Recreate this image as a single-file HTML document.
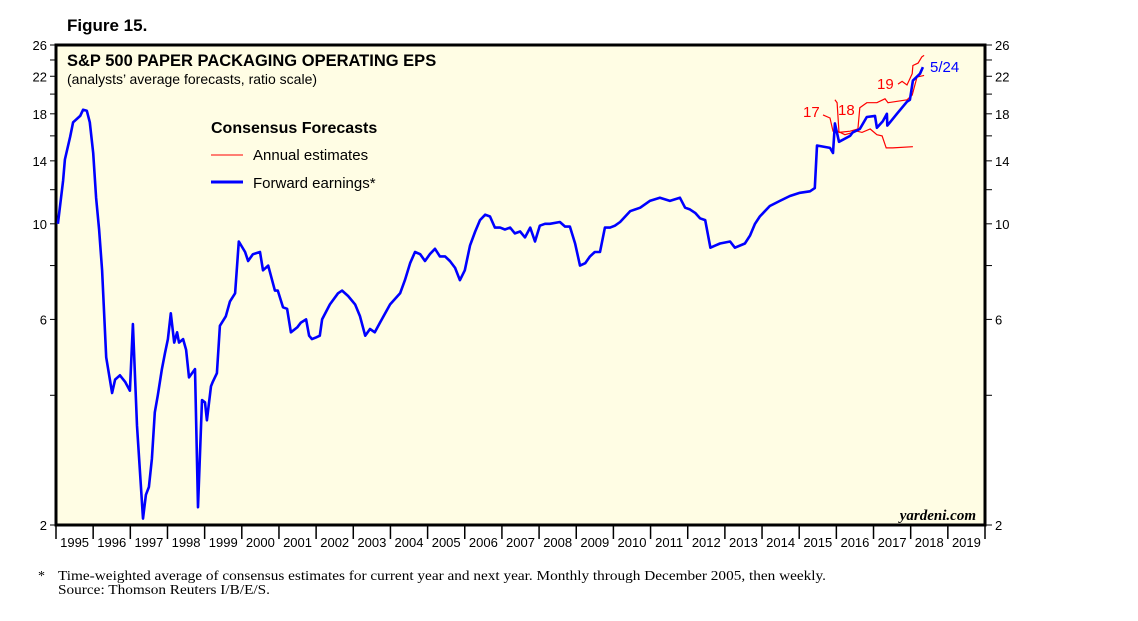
<!DOCTYPE html>
<html><head><meta charset="utf-8">
<style>
body{margin:0;background:#fff;width:1138px;height:621px;overflow:hidden}
svg{display:block}
</style></head>
<body>
<svg id="chart" width="1138" height="621" font-family="Liberation Sans, sans-serif">
<text x="67" y="31" font-size="17" font-weight="bold">Figure 15.</text>
<rect x="56" y="45" width="929" height="480" fill="#fffde4" stroke="#000" stroke-width="3"/>
<text x="67" y="66" font-size="16.5" font-weight="bold">S&amp;P 500 PAPER PACKAGING OPERATING EPS</text>
<text x="67" y="84" font-size="14">(analysts’ average forecasts, ratio scale)</text>
<g>
<text x="211" y="133" font-size="16" font-weight="bold">Consensus Forecasts</text>
<line x1="211" y1="155" x2="243" y2="155" stroke="#f00" stroke-width="1"/>
<text x="253" y="160" font-size="15">Annual estimates</text>
<line x1="211" y1="182" x2="243" y2="182" stroke="#00f" stroke-width="3"/>
<text x="253" y="188" font-size="15">Forward earnings*</text>
</g>
<text x="976" y="520" font-size="15" font-style="italic" font-weight="bold" font-family="Liberation Serif, serif" text-anchor="end">yardeni.com</text>
<g id="axes"></g>
<g id="series"></g>
<text x="38" y="580" font-size="14" font-family="Liberation Serif, serif">*</text>
<text x="58" y="580" font-size="14" font-family="Liberation Serif, serif" textLength="768" lengthAdjust="spacingAndGlyphs">Time-weighted average of consensus estimates for current year and next year. Monthly through December 2005, then weekly.</text>
<text x="58" y="594" font-size="14" font-family="Liberation Serif, serif" textLength="212" lengthAdjust="spacingAndGlyphs">Source: Thomson Reuters I/B/E/S.</text>
</svg>
<script>
const yTicks=[2,4,6,8,10,12,14,16,18,20,22,24,26];
const yLabels=[2,6,10,14,18,22,26];
const years=[1995,1996,1997,1998,1999,2000,2001,2002,2003,2004,2005,2006,2007,2008,2009,2010,2011,2012,2013,2014,2015,2016,2017,2018,2019];
const fwdDates=[1995.05,1995.19,1995.24,1995.38,1995.46,1995.65,1995.73,1995.83,1995.91,1996.0,1996.08,1996.16,1996.24,1996.35,1996.51,1996.59,1996.72,1996.86,1996.99,1997.07,1997.18,1997.26,1997.34,1997.42,1997.5,1997.58,1997.66,1997.74,1997.85,1997.93,1998.01,1998.09,1998.18,1998.26,1998.31,1998.42,1998.5,1998.58,1998.74,1998.82,1998.93,1999.01,1999.06,1999.17,1999.22,1999.33,1999.41,1999.57,1999.68,1999.82,1999.92,2000.09,2000.17,2000.3,2000.49,2000.57,2000.71,2000.89,2000.97,2001.11,2001.22,2001.32,2001.49,2001.59,2001.73,2001.81,2001.89,2002.0,2002.1,2002.16,2002.37,2002.59,2002.7,2002.86,2003.05,2003.18,2003.32,2003.45,2003.58,2003.72,2003.99,2004.26,2004.39,2004.53,2004.66,2004.8,2004.93,2005.06,2005.2,2005.33,2005.47,2005.6,2005.74,2005.87,2006.0,2006.14,2006.28,2006.41,2006.55,2006.68,2006.81,2006.95,2007.08,2007.22,2007.35,2007.49,2007.62,2007.76,2007.89,2008.02,2008.16,2008.29,2008.56,2008.7,2008.83,2008.97,2009.1,2009.24,2009.37,2009.5,2009.64,2009.77,2009.91,2010.04,2010.18,2010.45,2010.72,2010.98,2011.25,2011.52,2011.79,2011.93,2012.06,2012.2,2012.33,2012.47,2012.61,2012.74,2012.87,2013.14,2013.27,2013.54,2013.68,2013.81,2013.94,2014.21,2014.48,2014.75,2015.02,2015.29,2015.42,2015.48,2015.83,2015.91,2015.96,2016.07,2016.37,2016.44,2016.63,2016.82,2017.04,2017.09,2017.25,2017.36,2017.37,2017.63,2017.9,2017.98,2018.06,2018.25,2018.33];
const fwdValues=[10.0,12.6,14.1,15.9,17.2,17.8,18.4,18.3,17.2,14.6,11.5,9.7,7.8,4.9,4.05,4.35,4.45,4.3,4.1,5.85,3.4,2.65,2.07,2.35,2.45,2.85,3.65,4.0,4.6,5.0,5.4,6.2,5.3,5.6,5.3,5.4,5.1,4.4,4.6,2.2,3.9,3.85,3.5,4.2,4.3,4.5,5.8,6.1,6.6,6.9,9.1,8.6,8.2,8.5,8.6,7.8,8.0,7.0,7.0,6.4,6.35,5.6,5.75,5.9,6.0,5.5,5.4,5.45,5.5,6.0,6.5,6.9,7.0,6.8,6.5,6.1,5.5,5.7,5.6,5.9,6.5,6.9,7.4,8.1,8.6,8.5,8.2,8.5,8.75,8.4,8.4,8.2,7.9,7.4,7.8,8.9,9.6,10.2,10.5,10.4,9.8,9.8,9.7,9.8,9.5,9.6,9.3,9.8,9.1,9.9,10.0,10.0,10.1,9.85,9.85,9.0,8.0,8.1,8.4,8.6,8.6,9.8,9.8,9.9,10.1,10.7,10.9,11.3,11.5,11.3,11.5,10.9,10.8,10.6,10.3,10.2,8.8,8.9,9.0,9.1,8.8,9.0,9.4,10.0,10.4,11.0,11.3,11.6,11.8,11.9,12.1,15.2,15.0,14.6,17.1,15.5,16.0,16.3,16.6,17.7,17.8,16.7,17.3,18.0,16.9,18.0,19.2,19.4,21.5,22.3,23.1];
const a17Dates=[2015.64,2015.83,2015.91,2016.04,2016.23,2016.56,2016.69,2016.91,2017.09,2017.23,2017.34,2017.52,2018.06];
const a17Values=[17.9,17.6,16.4,16.4,16.1,16.4,16.3,16.6,16.1,16.0,15.0,15.0,15.1];
const a18Dates=[2015.96,2016.02,2016.07,2016.37,2016.58,2016.63,2016.82,2017.09,2017.31,2017.39,2017.9,2018.04,2018.17,2018.36];
const a18Values=[19.4,19.1,16.3,16.4,16.6,18.6,19.1,19.1,19.5,19.1,19.4,19.9,21.9,22.1];
const a19Dates=[2017.66,2017.77,2017.9,2018.04,2018.06,2018.2,2018.3,2018.36];
const a19Values=[21.1,21.4,21.0,22.3,23.3,23.6,24.4,24.6];

const NS='http://www.w3.org/2000/svg';
const X0=56,X1=985,Y0=45,Y1=525;
function xS(t){return X0+(t-1995)/25*(X1-X0);}
function yS(v){return Y0+(Math.log(26)-Math.log(v))/(Math.log(26)-Math.log(2))*(Y1-Y0);}
function mk(tag,attrs,parent){const e=document.createElementNS(NS,tag);for(const k in attrs)e.setAttribute(k,attrs[k]);parent.appendChild(e);return e;}
const axes=document.getElementById('axes'),series=document.getElementById('series');
yTicks.forEach(v=>{
  const y=yS(v);
  const l=mk('line',{x1:X0-6,y1:y,x2:X0,y2:y,stroke:'#000','stroke-width':1},axes);
  
  
  const r=mk('line',{x1:X1,y1:y,x2:X1+7,y2:y,stroke:'#000','stroke-width':1},axes);
  
  
});
yLabels.forEach(v=>{
  const y=yS(v)+5;
  const t=mk('text',{x:X0-9,y:y,'font-size':13,'text-anchor':'end'},axes);t.textContent=v;
  
  
  const t2=mk('text',{x:X1+10,y:y,'font-size':13},axes);t2.textContent=v;
  
  
});
years.concat([2020]).forEach(yr=>{
  const x=xS(yr);
  const l=mk('line',{x1:x,y1:Y1,x2:x,y2:Y1+14,stroke:'#000','stroke-width':1.5},axes);
  
  
});
years.forEach(yr=>{
  const t=mk('text',{x:xS(yr+0.5),y:Y1+22,'font-size':13,'text-anchor':'middle'},axes);t.textContent=yr;
  
  
});
function path(d,v){return d.map((t,i)=>(i?'L':'M')+xS(t).toFixed(1)+','+yS(v[i]).toFixed(1)).join('');}
[[a17Dates,a17Values,'annual-2017-line'],[a18Dates,a18Values,'annual-2018-line'],[a19Dates,a19Values,'annual-2019-line']].forEach(s=>{
  const p=mk('path',{d:path(s[0],s[1]),fill:'none',stroke:'#f00','stroke-width':1.2},series);
  
  
});
const fp=mk('path',{d:path(fwdDates,fwdValues),fill:'none',stroke:'#00f','stroke-width':2.6,'stroke-linejoin':'round'},series);


[['17',803,117,'#f00','label-2017'],['18',838,115,'#f00','label-2018'],['19',877,89,'#f00','label-2019'],['5/24',930,72,'#00f','label-latest-date']].forEach(a=>{
  const t=mk('text',{x:a[1],y:a[2],'font-size':15,fill:a[3]},series);t.textContent=a[0];
  
  
});
</script>
</body></html>
